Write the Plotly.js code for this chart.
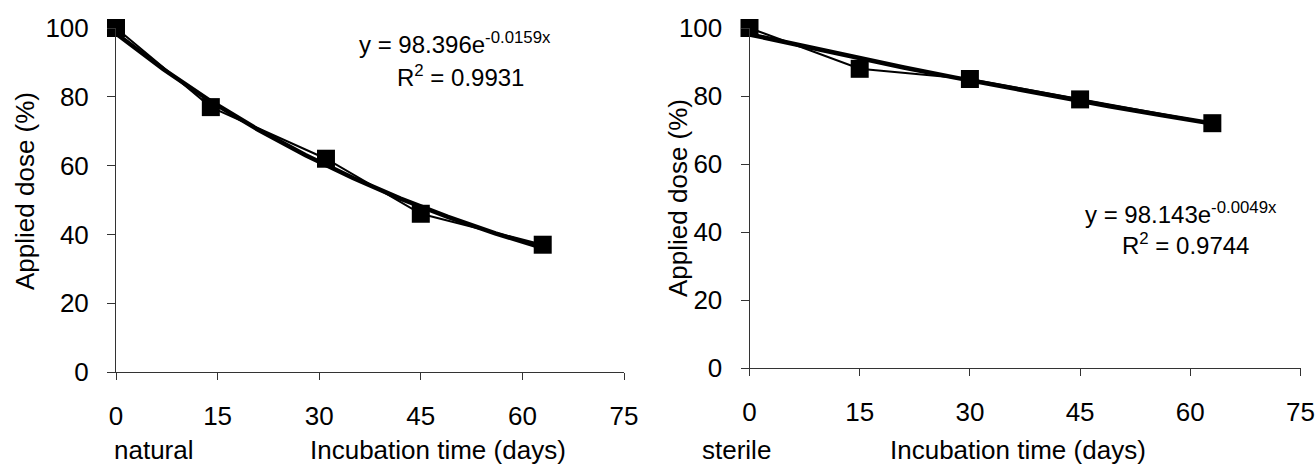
<!DOCTYPE html>
<html>
<head>
<meta charset="utf-8">
<script src="https://cdn.plot.ly/plotly-3.0.1.min.js"></script>
<style>html,body{margin:0;padding:0;background:#fff;}#chart{width:1315px;height:464px;}</style>
</head>
<body>
<div id="chart"></div>
<script>
// Natural soil
var naturalDays = [0, 14, 31, 45, 63];
var naturalDose = [100, 77, 62, 46, 37];
var naturalTrendDays = [0, 7, 14, 21, 28, 35, 42, 49, 56, 63];
var naturalTrendDose = [98.4, 88.0, 78.7, 70.4, 63.0, 56.4, 50.4, 45.1, 40.3, 36.1];
var naturalEq = "y = 98.396e<sup>-0.0159x</sup>";
var naturalR2 = "R<sup>2</sup> = 0.9931";

// Sterile soil
var sterileDays = [0, 15, 30, 45, 63];
var sterileDose = [100, 88, 85, 79, 72];
var sterileTrendDays = [0, 7, 14, 21, 28, 35, 42, 49, 56, 63];
var sterileTrendDose = [98.1, 94.8, 91.6, 88.4, 85.4, 82.5, 79.7, 77.0, 74.4, 71.9];
var sterileEq = "y = 98.143e<sup>-0.0049x</sup>";
var sterileR2 = "R<sup>2</sup> = 0.9744";

var xTicks = [0, 15, 30, 45, 60, 75];
var yTicks = [0, 20, 40, 60, 80, 100];
var xTitle = "Incubation time (days)";
var yTitle = "Applied dose (%)";
var panelLabels = ["natural", "sterile"];

var W = 1315, H = 464;
var FONT = "Liberation Sans, Arial, Helvetica, sans-serif";
function px(x){ return x / W; }
function py(y){ return 1 - y / H; }

function dataTrace(x, y, xa, ya){
  return {x:x, y:y, xaxis:xa, yaxis:ya, type:'scatter', mode:'lines+markers',
    line:{color:'#000', width:2}, marker:{symbol:'square', size:18, color:'#000'},
    cliponaxis:false, showlegend:false, hoverinfo:'x+y'};
}
function trendTrace(x, y, xa, ya){
  return {x:x, y:y, xaxis:xa, yaxis:ya, type:'scatter', mode:'lines',
    line:{color:'#000', width:4.5}, cliponaxis:false, showlegend:false, hoverinfo:'skip'};
}

var traces = [
  trendTrace(naturalTrendDays, naturalTrendDose, 'x', 'y'),
  dataTrace(naturalDays, naturalDose, 'x', 'y'),
  trendTrace(sterileTrendDays, sterileTrendDose, 'x2', 'y2'),
  dataTrace(sterileDays, sterileDose, 'x2', 'y2')
];

function xAxis(domain, anchor){
  return {domain:domain, anchor:anchor, range:[0,75], tickvals:xTicks, ticktext:xTicks.map(String),
    showgrid:false, zeroline:false, showline:true, linecolor:'#333', linewidth:1,
    ticks:'outside', ticklen:7, tickcolor:'#333', tickwidth:1, ticklabelstandoff:14,
    tickfont:{family:FONT, size:26, color:'#000'}, fixedrange:true};
}
function yAxis(domain, anchor){
  return {domain:domain, anchor:anchor, range:[0,100], tickvals:yTicks, ticktext:yTicks.map(String),
    showgrid:false, zeroline:false, showline:true, linecolor:'#333', linewidth:1,
    ticks:'outside', ticklen:8, tickcolor:'#333', tickwidth:1, ticklabelstandoff:13,
    tickfont:{family:FONT, size:26, color:'#000'}, fixedrange:true};
}

function ann(text, x, y, size, anchor){
  return {text:text, xref:'paper', yref:'paper', x:px(x), y:py(y), xanchor:anchor||'center', yanchor:'middle',
    showarrow:false, font:{family:FONT, size:size, color:'#000'}};
}
function rotAnn(text, x, y){
  return {text:text, xref:'paper', yref:'paper', x:px(x), y:py(y), xanchor:'center', yanchor:'middle',
    textangle:-90, showarrow:false, font:{family:FONT, size:26, color:'#000'}};
}

var layout = {
  width:W, height:H, margin:{l:0, r:0, t:0, b:0}, paper_bgcolor:'#fff', plot_bgcolor:'rgba(0,0,0,0)',
  showlegend:false,
  xaxis: xAxis([px(116), px(624)], 'y'),
  yaxis: yAxis([py(372), py(28)], 'x'),
  xaxis2: xAxis([px(749.5), px(1300.5)], 'y2'),
  yaxis2: yAxis([py(368), py(28)], 'x2'),
  annotations: [
    ann(naturalEq, 455, 43, 24), ann(naturalR2, 460, 76, 24),
    ann(sterileEq, 1181, 213, 24), ann(sterileR2, 1185, 244, 24),
    rotAnn(yTitle, 25, 191), rotAnn(yTitle, 678, 198),
    ann(panelLabels[0], 112, 450, 26, 'left'), ann(xTitle, 438, 450, 26),
    ann(panelLabels[1], 700, 450, 26, 'left'), ann(xTitle, 1018, 450, 26)
  ]
};

Plotly.newPlot('chart', traces, layout, {displayModeBar:false, staticPlot:true});
</script>
</body>
</html>
